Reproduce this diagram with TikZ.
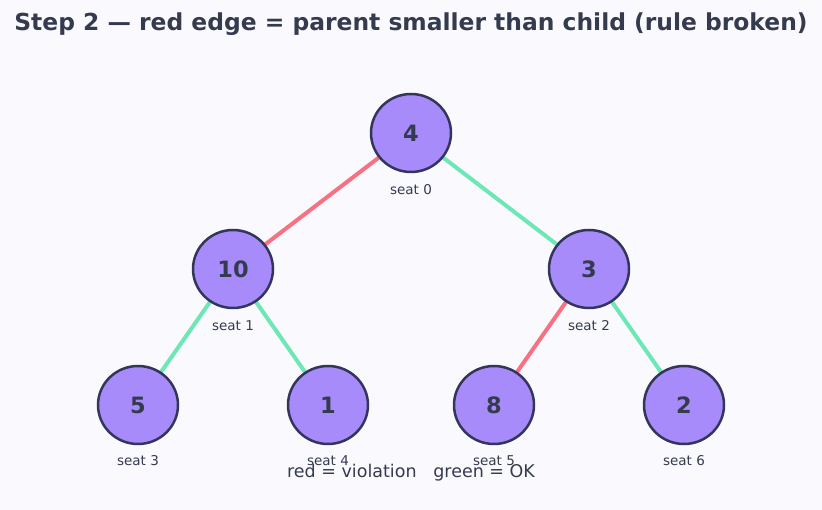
\documentclass[tikz,border=0pt]{standalone}
\usepackage{fontspec}
\setmainfont{DejaVu Sans}
\usetikzlibrary{shapes.geometric,backgrounds}

\definecolor{bgpage}{HTML}{FAFAFE}
\definecolor{inkdark}{HTML}{353B4F}
\definecolor{heapfill}{HTML}{A78BFA}
\definecolor{heapline}{HTML}{33365A}
\definecolor{badedge}{HTML}{F87183}
\definecolor{okedge}{HTML}{6EE7B7}

\pgfdeclarelayer{edges}
\pgfsetlayers{background,edges,main}

\tikzset{
  heapnode/.style={ellipse, draw=heapline, line width=2.5pt, fill=heapfill,
    minimum width=80pt, minimum height=78pt, inner sep=0pt,
    text=inkdark, font=\fontsize{22.5}{22}\selectfont\bfseries},
  seatlabel/.style={text=inkdark, font=\fontsize{13.5}{14}\selectfont},
  badlink/.style={draw=badedge, line width=4pt},
  oklink/.style={draw=okedge, line width=4pt}
}

\begin{document}
\begin{tikzpicture}[x=1pt,y=-1pt]
  \begin{pgfonlayer}{background}
    \fill[bgpage] (0,0) rectangle (822,510);
  \end{pgfonlayer}
  \useasboundingbox (0,0) rectangle (822,510);
  % title
  \node[text=inkdark, font=\fontsize{23.4}{24}\selectfont\bfseries] (title) at (411,24)
    {Step 2 — red edge = parent smaller than child (rule broken)};
  % the heap, seat by seat
  \node[heapnode] (s0) at (411,133) {4};
  \node[heapnode] (s1) at (233,269) {10};
  \node[heapnode] (s2) at (589,269) {3};
  \node[heapnode] (s3) at (138,405) {5};
  \node[heapnode] (s4) at (328,405) {1};
  \node[heapnode] (s5) at (494,405) {8};
  \node[heapnode] (s6) at (684,405) {2};
  % edges go behind the nodes
  \begin{pgfonlayer}{edges}
    \draw[badlink] (s0.center) -- (s1.center);
    \draw[oklink] (s0.center) -- (s2.center);
    \draw[oklink] (s1.center) -- (s3.center);
    \draw[oklink] (s1.center) -- (s4.center);
    \draw[badlink] (s2.center) -- (s5.center);
    \draw[oklink] (s2.center) -- (s6.center);
  \end{pgfonlayer}
  % seat numbers under each node
  \node[seatlabel] (l0) at (411,190) {seat 0};
  \node[seatlabel] (l1) at (233,326) {seat 1};
  \node[seatlabel] (l2) at (589,326) {seat 2};
  \foreach \i/\x in {3/138,4/328,5/494,6/684}
    \node[seatlabel] (l\i) at (\x,461) {seat \i};
  % legend
  \node[text=inkdark, font=\fontsize{17.5}{18}\selectfont] (legend) at (411,473)
    {red = violation \ \ green = OK};
\end{tikzpicture}
\end{document}
